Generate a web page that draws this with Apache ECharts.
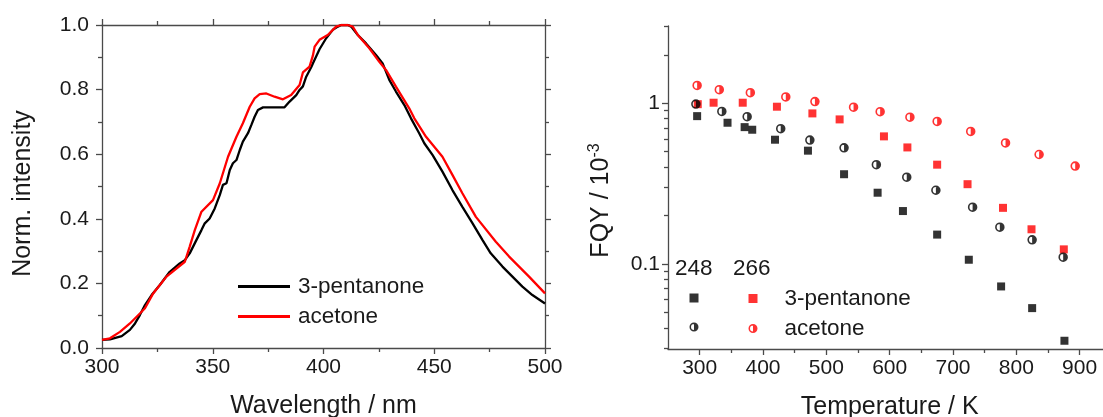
<!DOCTYPE html>
<html><head><meta charset="utf-8">
<script src="https://cdn.jsdelivr.net/npm/echarts@6/dist/echarts.min.js"></script>
<style>html,body{margin:0;padding:0;background:#fff}#c{width:1103px;height:417px}</style>
</head><body><div id="c"></div>
<script>
// ---- Left panel: normalized emission spectra ----
const pentanoneWl = [300, 303.6, 308.9, 312.6, 314.9, 317.1, 319.4, 322.4, 326.1, 330.6, 335.1, 337.4, 339.6, 342.6, 344.9, 346.4, 348.6, 350.9, 353.2, 354.6, 356.2, 357.7, 359.1, 360.7, 362.2, 363.6, 365.9, 367.4, 368.9, 370.4, 372.7, 377.2, 382.4, 384.7, 387.7, 389.2, 390.7, 392.2, 394.5, 395.2, 398.2, 401.2, 404.2, 406.5, 408, 411, 412.5, 415.5, 419.2, 423.7, 426.7, 429.7, 432.7, 436.5, 439.5, 443.2, 445.5, 449.2, 453.7, 458.2, 462.7, 467.3, 471.8, 475.5, 480.8, 485.3, 489.8, 494.3, 500];
const pentanoneInt = [0.025, 0.027, 0.037, 0.056, 0.076, 0.102, 0.133, 0.164, 0.195, 0.236, 0.262, 0.272, 0.293, 0.334, 0.365, 0.386, 0.401, 0.432, 0.474, 0.505, 0.51, 0.551, 0.572, 0.582, 0.613, 0.639, 0.665, 0.690, 0.716, 0.737, 0.745, 0.745, 0.745, 0.763, 0.783, 0.799, 0.81, 0.84, 0.87, 0.881, 0.925, 0.959, 0.985, 0.995, 1.0, 1.0, 0.995, 0.969, 0.943, 0.907, 0.881, 0.830, 0.794, 0.752, 0.711, 0.665, 0.634, 0.598, 0.546, 0.489, 0.437, 0.386, 0.334, 0.293, 0.252, 0.221, 0.190, 0.164, 0.138];
const acetoneWl = [300, 303.6, 308.1, 312.6, 317.1, 319.4, 323.1, 329.1, 337.4, 339.6, 341.9, 344.9, 350.1, 353.2, 356.9, 360.7, 363.6, 366.7, 368.9, 371.2, 374.2, 377.9, 381.7, 385.4, 389.2, 390.7, 393.7, 395.2, 396, 398.2, 401.9, 405.7, 408, 411, 413.2, 415.5, 420.7, 425.2, 428.2, 432.7, 438.7, 441, 446.3, 453.7, 458.2, 462.7, 468.8, 477.8, 483.8, 492.8, 500];
const acetoneInt = [0.025, 0.030, 0.050, 0.076, 0.107, 0.123, 0.169, 0.221, 0.267, 0.314, 0.365, 0.422, 0.458, 0.510, 0.592, 0.654, 0.696, 0.747, 0.773, 0.786, 0.788, 0.778, 0.770, 0.783, 0.814, 0.853, 0.871, 0.905, 0.933, 0.954, 0.969, 0.995, 1.0, 1.0, 0.995, 0.969, 0.928, 0.886, 0.861, 0.809, 0.742, 0.711, 0.654, 0.592, 0.536, 0.479, 0.406, 0.329, 0.283, 0.221, 0.169];

// ---- Right panel: fluorescence quantum yield vs temperature ----
const t248Pent = [296, 344, 371, 383, 419, 471, 528, 581, 621, 675, 725, 776, 825, 876];
const fqy248Pent = [0.83, 0.755, 0.709, 0.683, 0.592, 0.506, 0.361, 0.277, 0.213, 0.152, 0.106, 0.0723, 0.053, 0.0332];
const t266Pent = [297, 322, 368, 422, 478, 521, 591, 628, 675, 723, 779, 824, 875];
const fqy266Pent = [0.985, 1.006, 1.006, 0.95, 0.863, 0.792, 0.621, 0.53, 0.414, 0.313, 0.223, 0.164, 0.123];
const t248Ace = [294, 335, 375, 428, 474, 528, 579, 627, 673, 731, 774, 825, 874];
const fqy248Ace = [0.986, 0.888, 0.823, 0.693, 0.589, 0.527, 0.414, 0.346, 0.287, 0.225, 0.169, 0.141, 0.110];
const t266Ace = [296, 331, 380, 436, 482, 543, 585, 632, 675, 728, 783, 836, 893];
const fqy266Ace = [1.289, 1.212, 1.161, 1.093, 1.022, 0.944, 0.885, 0.818, 0.769, 0.667, 0.565, 0.479, 0.406];

// tick labels
const wlTicks = [300, 350, 400, 450, 500];
const tempTicks = [300, 400, 500, 600, 700, 800, 900];
const tempMinorTicks = [350, 450, 550, 650, 750, 850];
const fqyTicks = [0.1, 1];
const fqyMinorTicks = [0.03, 0.04, 0.05, 0.06, 0.07, 0.08, 0.09, 0.2, 0.3, 0.4, 0.5, 0.6, 0.7, 0.8, 0.9, 2, 3];

const zip = (a, b) => a.map((v, i) => [v, b[i]]);
const FONT = '"Liberation Sans", Arial, sans-serif';
const TXT = '#1a1a1a';
const AX = '#4a4a4a';
const halfCircle = 'path://M10 0A10 10 0 1 1 10 20A10 10 0 1 1 10 0ZM10 3.4A6.6 6.6 0 1 0 10 16.6A6.6 6.6 0 1 0 10 3.4ZM10 0A10 10 0 0 1 10 20Z';

const lbl = (extra) => Object.assign({fontFamily: FONT, fontSize: 21, color: TXT}, extra || {});
const axLine = {show: true, onZero: false, lineStyle: {color: AX, width: 1.3}};
const noLine = {show: false, onZero: false};
const tick = (len) => ({show: true, length: len, lineStyle: {color: AX, width: 1.3}});
const minor = {show: true, splitNumber: 2, length: 4, lineStyle: {color: AX, width: 1.3}};

const chart = echarts.init(document.getElementById('c'));
chart.setOption({
  animation: false,
  backgroundColor: '#fff',
  grid: [
    {left: 102, top: 25, width: 443, height: 323, containLabel: false, outerBoundsMode: 'none'},
    {left: 668, top: 26, width: 443.3, height: 323, containLabel: false, outerBoundsMode: 'none'}
  ],
  xAxis: [
    {gridIndex: 0, type: 'value', position: 'bottom', min: 300, max: 500, interval: 50,
     axisLine: axLine, axisTick: tick(6), minorTick: minor,
     splitLine: {show: false}, minorSplitLine: {show: false},
     axisLabel: lbl({margin: 9}),
     name: 'Wavelength / nm', nameLocation: 'middle', nameGap: 46,
     nameTextStyle: {fontFamily: FONT, fontSize: 25, color: TXT}},
    {gridIndex: 0, type: 'value', position: 'top', min: 300, max: 500, interval: 50,
     axisLine: axLine, axisTick: tick(6), minorTick: minor,
     splitLine: {show: false}, axisLabel: {show: false}},
    {gridIndex: 1, type: 'value', position: 'bottom', min: 250, max: 950,
     axisLine: axLine, axisTick: Object.assign(tick(6), {customValues: tempTicks}),
     splitLine: {show: false}, axisLabel: lbl({margin: 9, customValues: tempTicks}),
     name: 'Temperature / K', nameLocation: 'middle', nameGap: 46,
     nameTextStyle: {fontFamily: FONT, fontSize: 25, color: TXT}},
    {gridIndex: 1, type: 'value', position: 'bottom', min: 250, max: 950,
     axisLine: noLine, axisTick: Object.assign(tick(4), {customValues: tempMinorTicks}),
     splitLine: {show: false}, axisLabel: {show: false}}
  ],
  yAxis: [
    {gridIndex: 0, type: 'value', position: 'left', min: 0, max: 1, interval: 0.2,
     axisLine: axLine, axisTick: tick(6), minorTick: minor,
     splitLine: {show: false}, minorSplitLine: {show: false},
     axisLabel: lbl({margin: 13, formatter: v => v.toFixed(1)}),
     name: 'Norm. intensity', nameLocation: 'middle', nameGap: 66,
     nameTextStyle: {fontFamily: FONT, fontSize: 25, color: TXT, padding: [0, 14, 0, 0]}},
    {gridIndex: 0, type: 'value', position: 'right', min: 0, max: 1, interval: 0.2,
     axisLine: axLine, axisTick: tick(6), minorTick: minor,
     splitLine: {show: false}, axisLabel: {show: false}},
    {gridIndex: 1, type: 'log', logBase: 10, position: 'left', min: 0.0295, max: 3.02,
     axisLine: axLine, axisTick: Object.assign(tick(6), {customValues: fqyTicks}),
     splitLine: {show: false}, axisLabel: lbl({margin: 8, customValues: fqyTicks}),
     name: '{a|FQY / 10}{b|-3}', nameLocation: 'middle', nameGap: 52,
     nameTextStyle: {padding: [0, 26, 0, 0], rich: {
       a: {fontFamily: FONT, fontSize: 25, color: TXT, lineHeight: 29},
       b: {fontFamily: FONT, fontSize: 16, color: TXT, verticalAlign: 'top', lineHeight: 16}
     }}},
    {gridIndex: 1, type: 'log', logBase: 10, position: 'left', min: 0.0295, max: 3.02,
     axisLine: noLine, axisTick: Object.assign(tick(4), {customValues: fqyMinorTicks}),
     splitLine: {show: false}, axisLabel: {show: false}}
  ],
  legend: [
    {data: ['3-pentanone', 'acetone'], orient: 'vertical', left: 238, top: 275, padding: 0,
     icon: 'rect', itemWidth: 52, itemHeight: 3, itemGap: 7,
     textStyle: {fontFamily: FONT, fontSize: 22.5, color: TXT, lineHeight: 22, padding: [0, 0, 0, 3]}},
    {data: ['248 3-pentanone', '248 acetone'], orient: 'vertical', left: 689.5, top: 287, padding: 0,
     itemWidth: 9, itemHeight: 9, itemGap: 7, formatter: () => ' ',
     textStyle: {fontFamily: FONT, fontSize: 22, color: TXT, lineHeight: 22}},
    {data: ['266 3-pentanone', '266 acetone'], orient: 'vertical', left: 748.5, top: 287, padding: 0,
     itemWidth: 9, itemHeight: 9, itemGap: 7, formatter: n => n.slice(4),
     textStyle: {fontFamily: FONT, fontSize: 22.5, color: TXT, lineHeight: 22, padding: [0, 0, 0, 22]}}
  ],
  graphic: [
    {type: 'text', left: 675, top: 257, style: {text: '248', font: '22.5px "Liberation Sans", Arial, sans-serif', fill: TXT}},
    {type: 'text', left: 733, top: 257, style: {text: '266', font: '22.5px "Liberation Sans", Arial, sans-serif', fill: TXT}}
  ],
  series: [
    {name: '3-pentanone', type: 'line', xAxisIndex: 0, yAxisIndex: 0, showSymbol: false, color: '#000',
     lineStyle: {color: '#000', width: 2.3}, data: zip(pentanoneWl, pentanoneInt)},
    {name: 'acetone', type: 'line', xAxisIndex: 0, yAxisIndex: 0, showSymbol: false, color: '#ff0000',
     lineStyle: {color: '#ff0000', width: 2.3}, data: zip(acetoneWl, acetoneInt)},
    {name: '266 3-pentanone', type: 'scatter', xAxisIndex: 2, yAxisIndex: 2, symbol: 'rect', symbolSize: 8,
     itemStyle: {color: '#ff0000'}, data: zip(t266Pent, fqy266Pent)},
    {name: '248 3-pentanone', type: 'scatter', xAxisIndex: 2, yAxisIndex: 2, symbol: 'rect', symbolSize: 8,
     itemStyle: {color: '#000'}, data: zip(t248Pent, fqy248Pent)},
    {name: '266 acetone', type: 'scatter', xAxisIndex: 2, yAxisIndex: 2, symbol: halfCircle, symbolSize: 9.5,
     itemStyle: {color: '#ff0000'}, data: zip(t266Ace, fqy266Ace)},
    {name: '248 acetone', type: 'scatter', xAxisIndex: 2, yAxisIndex: 2, symbol: halfCircle, symbolSize: 9.5,
     itemStyle: {color: '#000'}, data: zip(t248Ace, fqy248Ace)}
  ]
});
</script>
</body></html>
